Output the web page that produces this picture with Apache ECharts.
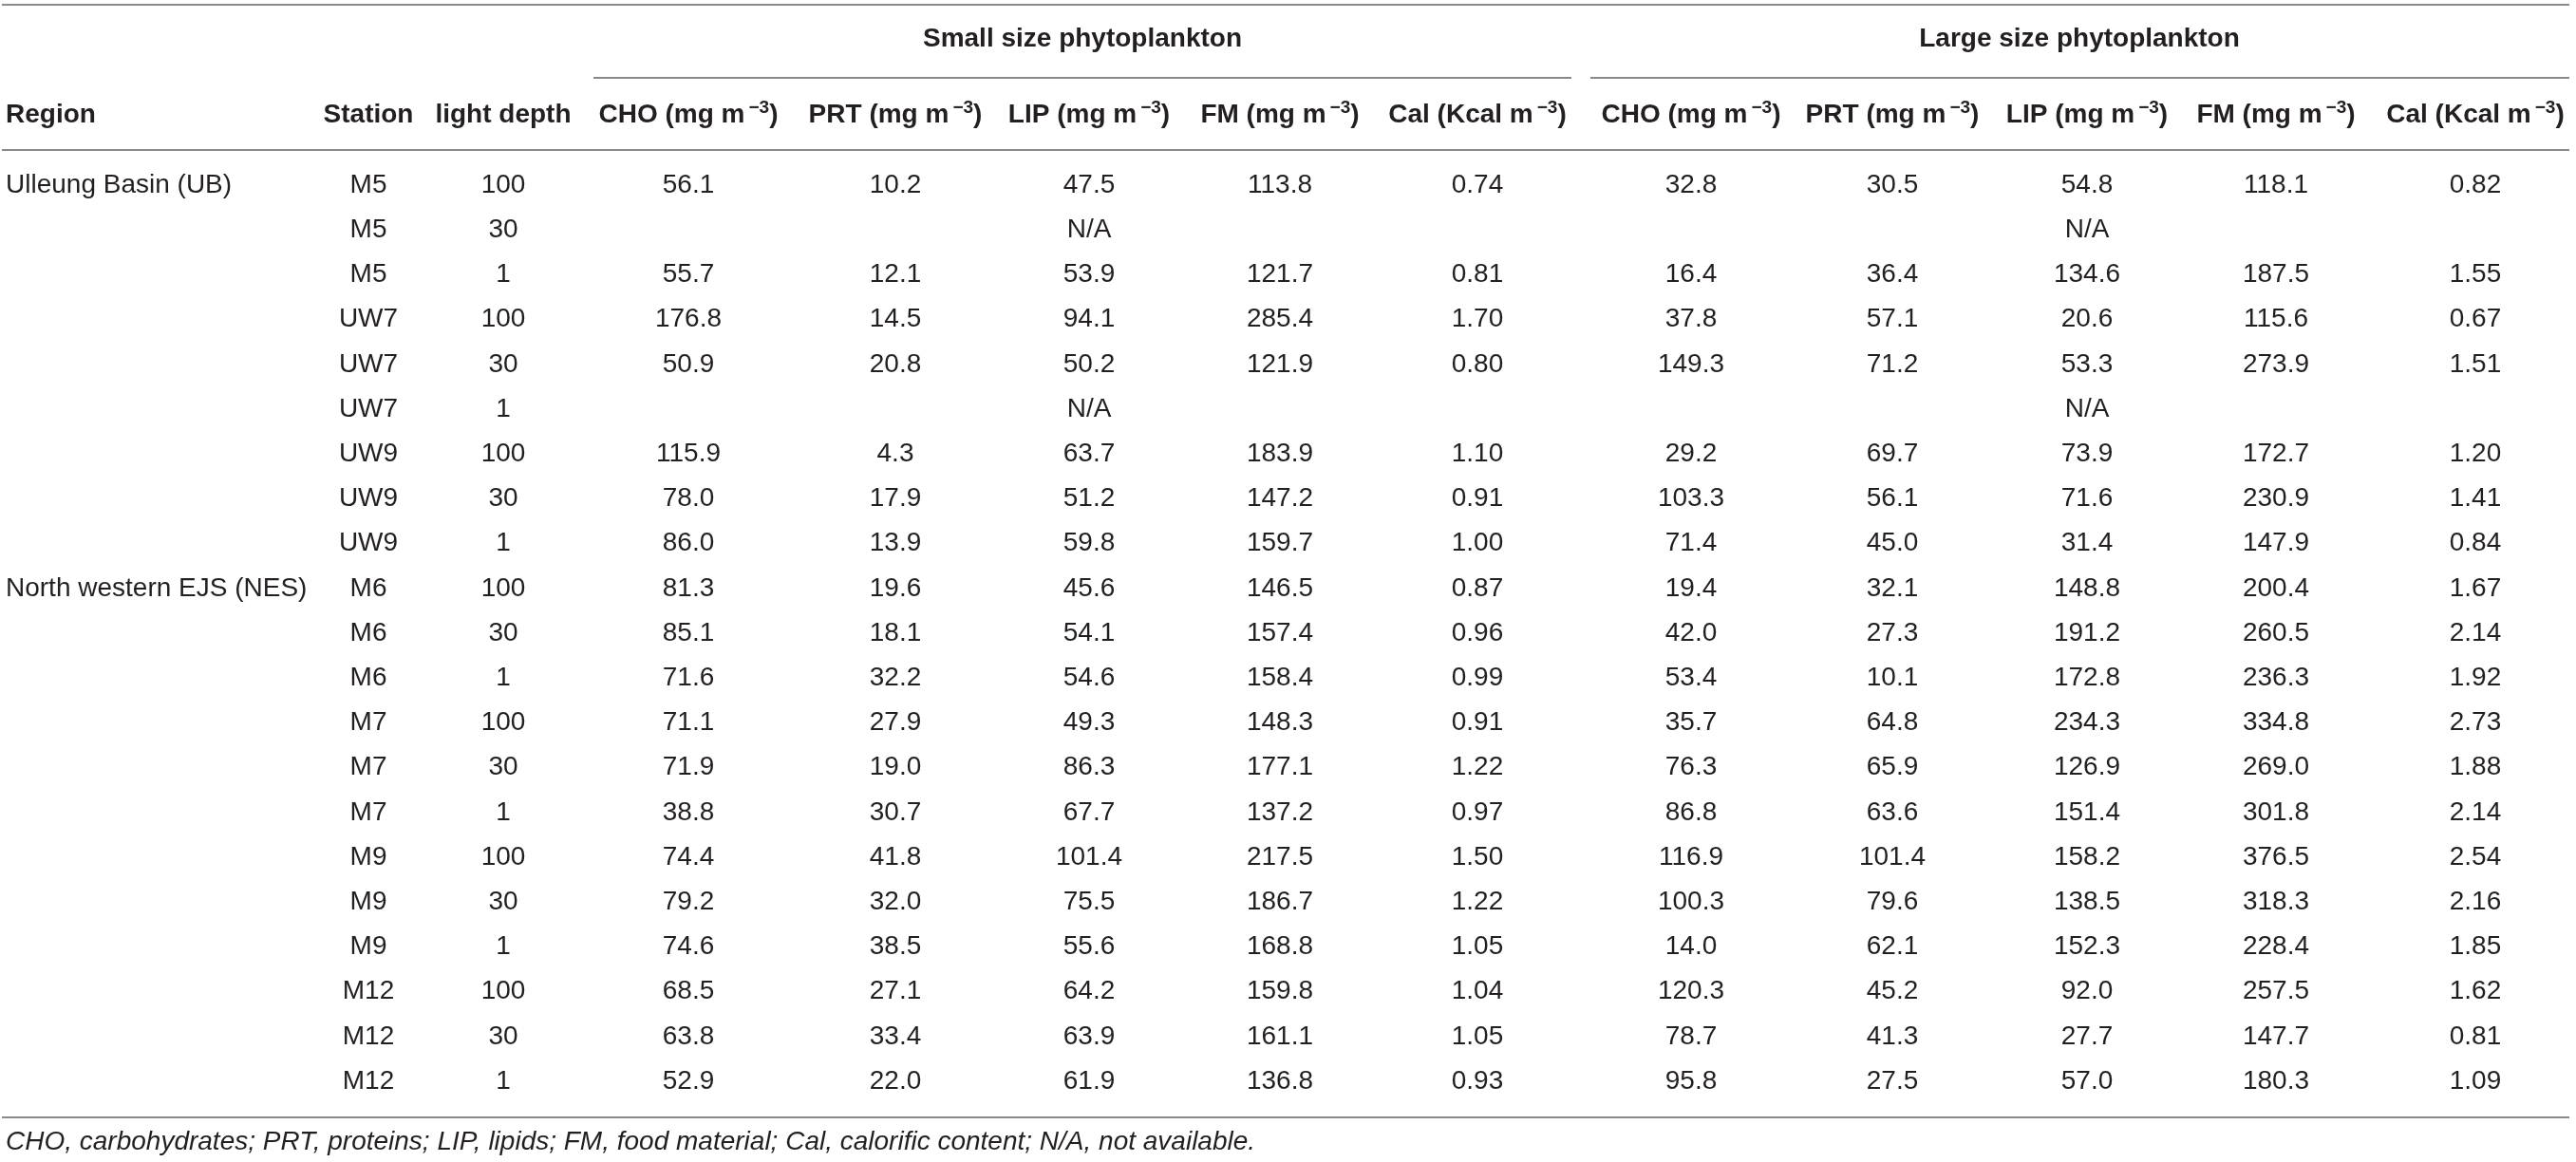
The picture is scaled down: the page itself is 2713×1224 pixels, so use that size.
<!DOCTYPE html>
<html>
<head>
<meta charset="utf-8">
<title>Phytoplankton food material</title>
<script src="https://cdn.jsdelivr.net/npm/echarts@6/dist/echarts.min.js"></script>
<style>
  html, body { margin: 0; padding: 0; background: #fff; }
  #chart { width: 2713px; height: 1224px; }
</style>
</head>
<body>
<div id="chart"></div>
<script>
// ---- table data ----
const regionNames = ["Ulleung Basin (UB)", "North western EJS (NES)"];
const regionFirstRow = [0, 9];

const stations = ["M5", "M5", "M5", "UW7", "UW7", "UW7", "UW9", "UW9", "UW9",
  "M6", "M6", "M6", "M7", "M7", "M7", "M9", "M9", "M9", "M12", "M12", "M12"];
const lightDepth = [100, 30, 1, 100, 30, 1, 100, 30, 1,
  100, 30, 1, 100, 30, 1, 100, 30, 1, 100, 30, 1];

// small size phytoplankton (null = N/A)
const smallCHO = [56.1, null, 55.7, 176.8, 50.9, null, 115.9, 78.0, 86.0,
  81.3, 85.1, 71.6, 71.1, 71.9, 38.8, 74.4, 79.2, 74.6, 68.5, 63.8, 52.9];
const smallPRT = [10.2, null, 12.1, 14.5, 20.8, null, 4.3, 17.9, 13.9,
  19.6, 18.1, 32.2, 27.9, 19.0, 30.7, 41.8, 32.0, 38.5, 27.1, 33.4, 22.0];
const smallLIP = [47.5, null, 53.9, 94.1, 50.2, null, 63.7, 51.2, 59.8,
  45.6, 54.1, 54.6, 49.3, 86.3, 67.7, 101.4, 75.5, 55.6, 64.2, 63.9, 61.9];
const smallFM = [113.8, null, 121.7, 285.4, 121.9, null, 183.9, 147.2, 159.7,
  146.5, 157.4, 158.4, 148.3, 177.1, 137.2, 217.5, 186.7, 168.8, 159.8, 161.1, 136.8];
const smallCal = [0.74, null, 0.81, 1.70, 0.80, null, 1.10, 0.91, 1.00,
  0.87, 0.96, 0.99, 0.91, 1.22, 0.97, 1.50, 1.22, 1.05, 1.04, 1.05, 0.93];

// large size phytoplankton (null = N/A)
const largeCHO = [32.8, null, 16.4, 37.8, 149.3, null, 29.2, 103.3, 71.4,
  19.4, 42.0, 53.4, 35.7, 76.3, 86.8, 116.9, 100.3, 14.0, 120.3, 78.7, 95.8];
const largePRT = [30.5, null, 36.4, 57.1, 71.2, null, 69.7, 56.1, 45.0,
  32.1, 27.3, 10.1, 64.8, 65.9, 63.6, 101.4, 79.6, 62.1, 45.2, 41.3, 27.5];
const largeLIP = [54.8, null, 134.6, 20.6, 53.3, null, 73.9, 71.6, 31.4,
  148.8, 191.2, 172.8, 234.3, 126.9, 151.4, 158.2, 138.5, 152.3, 92.0, 27.7, 57.0];
const largeFM = [118.1, null, 187.5, 115.6, 273.9, null, 172.7, 230.9, 147.9,
  200.4, 260.5, 236.3, 334.8, 269.0, 301.8, 376.5, 318.3, 228.4, 257.5, 147.7, 180.3];
const largeCal = [0.82, null, 1.55, 0.67, 1.51, null, 1.20, 1.41, 0.84,
  1.67, 2.14, 1.92, 2.73, 1.88, 2.14, 2.54, 2.16, 1.85, 1.62, 0.81, 1.09];

const groupTitles = ["Small size phytoplankton", "Large size phytoplankton"];
const headerNames = ["Region", "Station", "light depth",
  "CHO", "PRT", "LIP", "FM", "Cal", "CHO", "PRT", "LIP", "FM", "Cal"];
const headerUnits = ["", "", "", "mg m", "mg m", "mg m", "mg m", "Kcal m",
  "mg m", "mg m", "mg m", "mg m", "Kcal m"];
const footNote = "CHO, carbohydrates; PRT, proteins; LIP, lipids; FM, food material; " +
  "Cal, calorific content; N/A, not available.";

// ---- layout (page units) ----
const W = 2713, H = 1224;
const colX = [6, 388, 530, 725, 943, 1147, 1348, 1556, 1781, 1993, 2198, 2397, 2607];
const groupX = [1140, 2190];
const groupY = 41, headerY = 121, footY = 1203;
const rowTop = 195, rowStep = 47.2;
const rules = [[2, 2706, 5], [625, 1655, 82], [1675, 2706, 82], [2, 2706, 158], [2, 2706, 1177]];

const FONT = "'Liberation Sans', Arial, Helvetica, sans-serif";
const INK = "#231f20";
const SIZE = 28;

const valueCols = [
  [smallCHO, 1], [smallPRT, 1], [smallLIP, 1], [smallFM, 1], [smallCal, 2],
  [largeCHO, 1], [largePRT, 1], [largeLIP, 1], [largeFM, 1], [largeCal, 2]
];

// collect all text cells: [x, y, text, kind, align]
const cells = [];
groupTitles.forEach((t, i) => cells.push([groupX[i], groupY, t, "head", "center"]));
headerNames.forEach((n, i) => {
  const txt = headerUnits[i] ? "{b|" + n + " (" + headerUnits[i] + "}{s|\u22123}{b|)}" : "{b|" + n + "}";
  cells.push([colX[i], headerY, txt, "rich", i === 0 ? "left" : "center"]);
});
regionNames.forEach((r, i) => cells.push([colX[0], rowTop + regionFirstRow[i] * rowStep, r, "body", "left"]));
stations.forEach((s, r) => {
  const y = rowTop + r * rowStep;
  cells.push([colX[1], y, s, "body", "center"]);
  cells.push([colX[2], y, String(lightDepth[r]), "body", "center"]);
  valueCols.forEach(([arr, dec], c) => {
    const v = arr[r];
    if (v !== null) {
      cells.push([colX[3 + c], y, v.toFixed(dec), "body", "center"]);
    } else if (c === 2 || c === 7) {
      cells.push([colX[3 + c], y, "N/A", "body", "center"]);
    }
  });
});
cells.push([colX[0], footY, footNote, "foot", "left"]);

const chart = echarts.init(document.getElementById("chart"), null, { renderer: "canvas" });

const option = {
  backgroundColor: "#ffffff",
  animation: false,
  grid: { left: 0, right: 0, top: 0, bottom: 0 },
  xAxis: { type: "value", min: 0, max: W, show: false },
  yAxis: { type: "value", min: 0, max: H, inverse: true, show: false },
  series: [
    {
      type: "custom",
      name: "rules",
      silent: true,
      clip: false,
      data: rules,
      renderItem: function (params, api) {
        const p1 = api.coord([api.value(0), api.value(2)]);
        const p2 = api.coord([api.value(1), api.value(2)]);
        return {
          type: "line",
          shape: { x1: p1[0], y1: p1[1], x2: p2[0], y2: p2[1] },
          style: { stroke: "#8a8a8a", lineWidth: 2 }
        };
      }
    },
    {
      type: "custom",
      name: "cells",
      silent: true,
      clip: false,
      data: cells.map(c => [c[0], c[1]]),
      renderItem: function (params, api) {
        const cell = cells[params.dataIndex];
        const pt = api.coord([api.value(0), api.value(1)]);
        const kind = cell[3];
        const style = {
          text: cell[2],
          fill: INK,
          fontFamily: FONT,
          fontSize: SIZE,
          align: cell[4],
          verticalAlign: "middle"
        };
        if (kind === "head") style.fontWeight = "bold";
        if (kind === "foot") style.fontStyle = "italic";
        if (kind === "rich") {
          style.rich = {
            b: { fontFamily: FONT, fontSize: SIZE, fontWeight: "bold", fill: INK, lineHeight: 34 },
            s: { fontFamily: FONT, fontSize: 19, fontWeight: "bold", fill: INK,
              verticalAlign: "top", padding: [0, 0, 0, 4], lineHeight: 34 }
          };
        }
        return { type: "text", x: pt[0], y: pt[1], style: style };
      }
    }
  ]
};

chart.setOption(option);
window.addEventListener("resize", () => chart.resize());
</script>
</body>
</html>
